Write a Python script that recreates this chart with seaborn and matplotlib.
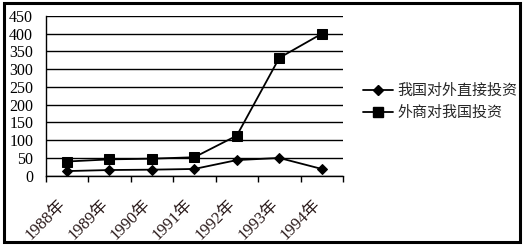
import matplotlib
matplotlib.use("Agg")
import matplotlib.pyplot as plt
import matplotlib.transforms as mtransforms
from matplotlib.patches import Rectangle
from matplotlib.lines import Line2D
import seaborn as sns
import pandas as pd
import numpy as np

years = ["1988年", "1989年", "1990年", "1991年", "1992年", "1993年", "1994年"]
series_names = ["我国对外直接投资", "外商对我国投资"]
outward = [13, 16, 17, 19, 44, 50, 19]
inward = [40, 46, 48, 52, 113, 332, 400]
yticks = [0, 50, 100, 150, 200, 250, 300, 350, 400, 450]

sns.set_theme(style="white")
plt.rcParams['font.family'] = ['Liberation Serif', 'Noto Sans CJK SC']

df = pd.DataFrame({
    "x": list(range(len(years))) * 2,
    "value": outward + inward,
    "series": [series_names[0]] * len(years) + [series_names[1]] * len(years),
})

W, H, DPI = 523, 245, 100
fig = plt.figure(figsize=(W / DPI, H / DPI), dpi=DPI)
fig.patch.set_facecolor("white")
left, right, bottom, top = 45.7 / W, 343 / W, 1 - 175.7 / H, 1 - 16 / H
ax = fig.add_axes([left, bottom, right - left, top - bottom])

sns.lineplot(data=df, x="x", y="value", hue="series", style="series",
             markers={series_names[0]: "D", series_names[1]: "s"},
             dashes=False, palette={series_names[0]: "black", series_names[1]: "black"},
             linewidth=1.3, markersize=6.5, markeredgecolor="black", legend=False, ax=ax)
for ln in ax.get_lines():
    if ln.get_marker() == "D":
        ln.set_markersize(5)

ax.set_xlim(-0.5, len(years) - 0.5)
ax.set_ylim(0, 450)
ax.set_yticks(yticks)
ax.set_yticklabels([str(v) for v in yticks], fontsize=11.5, family=['Liberation Serif'])
ax.yaxis.grid(True, color="black", linewidth=1.0)
ax.set_axisbelow(True)
ax.set_xlabel("")
ax.set_ylabel("")
for s in ["top", "right"]:
    ax.spines[s].set_visible(False)
for s in ["left", "bottom"]:
    ax.spines[s].set_color("black")
    ax.spines[s].set_linewidth(1.0)

ax.tick_params(axis="y", length=0, pad=9, colors="black")
ax.set_xticks(range(len(years)))
ax.set_xticklabels(years, rotation=45, ha="right", fontsize=12,
                   family=['Liberation Serif', 'Noto Sans CJK SC'], color="#2a1a1a")
ax.tick_params(axis="x", which="major", length=0, pad=15)
ax.set_xticks(np.arange(-0.5, len(years)), minor=True)
ax.tick_params(axis="x", which="minor", length=4, width=1, color="black", direction="out",
               bottom=True)
offset = mtransforms.ScaledTranslation(2 / DPI, 0, fig.dpi_scale_trans)
for lab in ax.get_xticklabels():
    lab.set_transform(lab.get_transform() + offset)

handles = [Line2D([], [], color="black", marker="D", markersize=5, linewidth=1.3),
           Line2D([], [], color="black", marker="s", markersize=6.5, linewidth=1.3)]
fig.legend(handles, series_names, loc="center left",
           bbox_to_anchor=(355 / W, 1 - 102 / H), frameon=False,
           prop={"family": ["Noto Sans CJK SC"], "size": 10.8},
           handlelength=2.0, handletextpad=0.3, labelspacing=0.55, borderpad=0)

fig.patches.append(Rectangle((3.5 / W, 3.5 / H), 1 - 7 / W, 1 - 7 / H,
                             transform=fig.transFigure, fill=False,
                             edgecolor="black", linewidth=2.2))

fig.savefig("out.png", dpi=DPI)
